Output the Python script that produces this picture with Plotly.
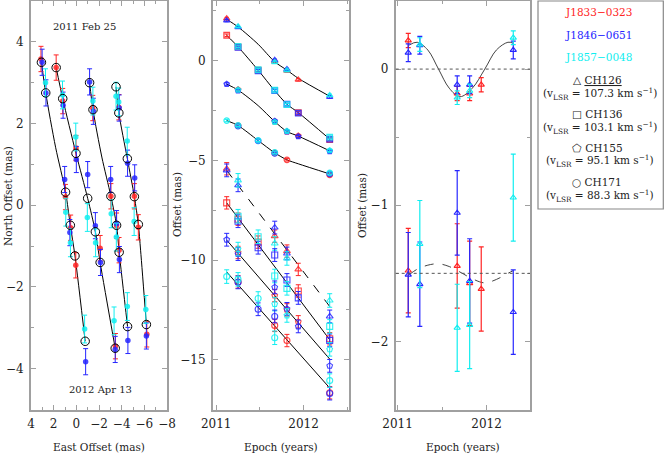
import plotly.graph_objects as go

W, H = 664, 453

# ---------------- data ----------------
epochs = [2011.12, 2011.25, 2011.48, 2011.67, 2011.81, 2011.94, 2012.30]
channel_names = ["CH126", "CH136", "CH155", "CH171"]
channel_vlsr = ["107.3", "103.1", "95.1", "88.3"]
source_names = ["J1833\u22120323", "J1846\u22120651", "J1857\u22120048"]

# East offsets (mas) as plotted in the middle panel (upper group)
ch126_east_red = [2.12, None, None, -0.04, -0.50, -0.95, None]
ch126_east_blue = [2.02, 1.68, None, 0.03, -0.43, None, -1.82]
ch126_east_cyan = [None, 1.72, None, -0.07, -0.48, None, -1.73]
ch136_east_red = [1.28, 0.70, -0.47, None, None, -2.60, -3.95]
ch136_east_blue = [None, 0.67, -0.50, -1.50, -2.18, -2.63, -3.93]
ch136_east_cyan = [None, 0.72, -0.45, -1.47, -2.20, None, -3.83]
ch155_east_red = [None, -1.45, None, -3.05, -3.55, -3.77, None]
ch155_east_blue = [-1.17, -1.50, None, -3.03, -3.55, -3.80, -4.55]
ch155_east_cyan = [None, -1.46, None, -3.08, -3.53, None, -4.50]
ch171_east_red = [None, -3.25, None, -4.62, -4.97, None, -5.72]
ch171_east_blue = [None, -3.28, -4.02, -4.65, None, None, -5.68]
ch171_east_cyan = [-3.00, -3.24, -3.99, -4.60, None, None, -5.63]

# North offsets (mas) as plotted in the middle panel (lower group)
ch126_north_red = [-5.42, None, None, -8.80, -9.55, -10.47, None]
ch126_north_blue = [-5.50, -6.25, None, -8.37, -9.67, None, -12.83]
ch126_north_cyan = [None, -6.00, None, -9.17, -9.92, None, -12.03]
ch136_north_red = [-7.13, -7.95, -9.10, None, None, -11.55, -13.95]
ch136_north_blue = [None, -8.05, -9.38, -9.75, -11.00, -11.90, -14.03]
ch136_north_cyan = [None, -7.80, -8.83, -10.80, -11.42, None, -13.33]
ch155_north_red = [None, -9.62, None, -11.78, -12.50, -13.10, None]
ch155_north_blue = [-8.98, -9.70, None, -11.37, -12.45, -13.33, -15.31]
ch155_north_cyan = [None, -9.45, None, -12.21, -12.78, None, -14.48]
ch171_north_red = [None, -11.10, None, -13.28, -14.04, None, -16.66]
ch171_north_blue = [None, -11.12, -12.47, -12.83, None, None, -16.70]
ch171_north_cyan = [-10.83, -10.97, -11.93, -13.90, None, None, -16.05]

# 1-sigma errors (mas) per reference source: red, blue, cyan
east_err = [0.06, 0.06, 0.06]
north_err = [0.31, 0.32, 0.34]

# fitted models (middle panel values at each epoch)
ch126_model_east = [2.08, 1.70, 0.83, -0.05, -0.47, -0.88, -1.78]
ch136_model_east = [1.28, 0.70, -0.47, -1.50, -2.18, -2.60, -3.93]
ch155_model_east = [-1.17, -1.47, -2.25, -3.05, -3.55, -3.78, -4.52]
ch171_model_east = [-3.00, -3.25, -4.00, -4.62, -4.97, -5.17, -5.68]
ch126_model_north = [-5.50, -6.25, -7.58, -8.68, -9.49, -10.24, -12.33]
ch136_model_north = [-7.13, -7.89, -9.23, -10.33, -11.15, -11.90, -14.00]
ch155_model_north = [-9.00, -9.66, -10.82, -11.78, -12.49, -13.15, -14.97]
ch171_model_north = [-10.60, -11.24, -12.36, -13.29, -13.97, -14.60, -16.42]

# display shifts of each channel's track in the sky-plane panel
sky_shift_east = [1.0, 0.5, 0.0, -0.5]
sky_shift_north = [9.0, 10.5, 12.0, 13.5]

# right panel: CH126 parallax residuals (RA upper, Dec lower shifted by -1.5)
dec_display_shift = -1.5
p3_ra_red = [0.21, None, None, -0.18, -0.18, -0.115, None]
p3_ra_blue = [0.12, 0.175, None, -0.115, -0.115, None, 0.14]
p3_ra_cyan = [None, 0.18, None, -0.21, -0.16, None, 0.23]
p3_ra_err = [0.052, 0.065, 0.05]
p3_dec_red = [0.02, None, None, 0.054, -0.073, -0.115, None]
p3_dec_blue = [-0.01, -0.08, None, 0.444, -0.056, None, -0.285]
p3_dec_cyan = [None, 0.215, None, -0.40, -0.38, None, 0.556]
p3_dec_err = [0.31, 0.31, 0.32]
p3_model_t = [2011.13, 2011.22, 2011.34, 2011.46, 2011.58, 2011.70, 2011.84,
              2011.98, 2012.11, 2012.24, 2012.30]
p3_model_ra = [0.176, 0.197, 0.14, 0.0, -0.14, -0.203, -0.14, 0.0, 0.14, 0.197, 0.19]
p3_model_dec = [-0.01, 0.03, 0.06, 0.07, 0.05, 0.01, -0.04, -0.07, -0.045, 0.0, 0.02]

# ---------------- assemble ----------------
east = [[ch126_east_red, ch126_east_blue, ch126_east_cyan],
        [ch136_east_red, ch136_east_blue, ch136_east_cyan],
        [ch155_east_red, ch155_east_blue, ch155_east_cyan],
        [ch171_east_red, ch171_east_blue, ch171_east_cyan]]
north = [[ch126_north_red, ch126_north_blue, ch126_north_cyan],
         [ch136_north_red, ch136_north_blue, ch136_north_cyan],
         [ch155_north_red, ch155_north_blue, ch155_north_cyan],
         [ch171_north_red, ch171_north_blue, ch171_north_cyan]]
model_east = [ch126_model_east, ch136_model_east, ch155_model_east, ch171_model_east]
model_north = [ch126_model_north, ch136_model_north, ch155_model_north, ch171_model_north]
p3_ra = [p3_ra_red, p3_ra_blue, p3_ra_cyan]
p3_dec = [p3_dec_red, p3_dec_blue, p3_dec_cyan]

src_colors = ["#ff2424", "#2626ff", "#10eef0"]
symbols = ["triangle-up-open", "square-open", "pentagon-open", "circle-open"]
FONT = "DejaVu Serif"
FRAME = "#a0a0a0"


def add(v, s):
    return [None if a is None else a + s for a in v]


fig = go.Figure()

# ---- panel 1: sky plane ----
for c in range(4):
    fig.add_trace(go.Scatter(
        x=add(model_east[c], sky_shift_east[c]), y=add(model_north[c], sky_shift_north[c]),
        mode="lines", line=dict(color="black", width=1, shape="spline", smoothing=0.8),
        xaxis="x", yaxis="y", hoverinfo="skip"))
    for s in range(3):
        fig.add_trace(go.Scatter(
            x=add(east[c][s], sky_shift_east[c]), y=add(north[c][s], sky_shift_north[c]),
            mode="markers", xaxis="x", yaxis="y",
            marker=dict(symbol="circle", size=5.5, color=src_colors[s], opacity=0.85),
            error_y=dict(type="constant", value=north_err[s], color=src_colors[s],
                         thickness=1, width=2.5)))
for c in range(4):
    idx = [i for i in range(len(epochs))
           if any(east[c][s][i] is not None for s in range(3))]
    fig.add_trace(go.Scatter(
        x=[model_east[c][i] + sky_shift_east[c] for i in idx],
        y=[model_north[c][i] + sky_shift_north[c] for i in idx],
        mode="markers", xaxis="x", yaxis="y",
        marker=dict(symbol="circle-open", size=8.5, color="black", line=dict(width=1))))

# ---- panel 2: offsets vs epoch ----
for c in range(4):
    fig.add_trace(go.Scatter(x=epochs, y=model_east[c], mode="lines", xaxis="x2", yaxis="y2",
                             line=dict(color="black", width=1, shape="spline", smoothing=0.8)))
    fig.add_trace(go.Scatter(x=epochs, y=model_north[c], mode="lines", xaxis="x2", yaxis="y2",
                             line=dict(color="black", width=1, dash="dash" if c == 0 else "solid")))
    for s in range(3):
        fig.add_trace(go.Scatter(
            x=epochs, y=east[c][s], mode="markers", xaxis="x2", yaxis="y2",
            marker=dict(symbol=symbols[c], size=5.5, color=src_colors[s], opacity=0.85,
                        line=dict(width=1.3, color=src_colors[s])),
            error_y=dict(type="constant", value=east_err[s], color=src_colors[s],
                         thickness=1, width=2)))
        fig.add_trace(go.Scatter(
            x=epochs, y=north[c][s], mode="markers", xaxis="x2", yaxis="y2",
            marker=dict(symbol=symbols[c], size=6, color=src_colors[s], opacity=0.85,
                        line=dict(width=1.1, color=src_colors[s])),
            error_y=dict(type="constant", value=north_err[s], color=src_colors[s],
                         thickness=1, width=2.5)))

# ---- panel 3: parallax residuals CH126 ----
fig.add_trace(go.Scatter(x=p3_model_t, y=p3_model_ra, mode="lines", xaxis="x3", yaxis="y3",
                         line=dict(color="#444", width=1, shape="spline", smoothing=1)))
fig.add_trace(go.Scatter(x=p3_model_t, y=add(p3_model_dec, dec_display_shift), mode="lines",
                         xaxis="x3", yaxis="y3",
                         line=dict(color="#444", width=1, dash="dash", shape="spline", smoothing=1)))
for s in range(3):
    fig.add_trace(go.Scatter(
        x=epochs, y=p3_ra[s], mode="markers", xaxis="x3", yaxis="y3",
        marker=dict(symbol="triangle-up-open", size=5.5, color=src_colors[s],
                    line=dict(width=1.1, color=src_colors[s])),
        error_y=dict(type="constant", value=p3_ra_err[s], color=src_colors[s], thickness=1.2, width=2.5)))
    fig.add_trace(go.Scatter(
        x=epochs, y=add(p3_dec[s], dec_display_shift), mode="markers", xaxis="x3", yaxis="y3",
        marker=dict(symbol="triangle-up-open", size=5.5, color=src_colors[s],
                    line=dict(width=1.1, color=src_colors[s])),
        error_y=dict(type="constant", value=p3_dec_err[s], color=src_colors[s], thickness=1.2, width=2.5)))


# ---------------- layout ----------------
def px(x):
    return x / W


def py(y):
    return 1 - y / H


def axis(domain, rng, dtick, minor, anchor, tick0=0, standoff=2):
    return dict(domain=domain, range=rng, dtick=dtick, tick0=tick0, anchor=anchor,
                automargin=False,
                ticks="inside", ticklen=5, tickwidth=1.2, tickcolor=FRAME,
                showline=True, linecolor=FRAME, linewidth=2, mirror="allticks",
                showgrid=False, zeroline=False, ticklabelstandoff=standoff,
                tickfont=dict(family=FONT, size=12, color="#222"),
                minor=dict(dtick=minor, tick0=tick0, ticks="inside", ticklen=3,
                           tickcolor=FRAME, tickwidth=1.2, showgrid=False))


ydom = [py(409.5), py(1)]
fig.update_layout(
    width=W, height=H, autosize=False, showlegend=False,
    margin=dict(l=0, r=0, t=0, b=0, pad=0),
    plot_bgcolor="white", paper_bgcolor="white",
    font=dict(family=FONT, size=12, color="#222"),
    xaxis=axis([px(31), px(167)], [4, -8], 2, 1, "y", standoff=2),
    yaxis=axis(ydom, [-5, 5], 2, 1, "x", standoff=3),
    xaxis2=axis([px(213), px(349)], [2010.963, 2012.521], 1, 0.5, "y2", tick0=2011, standoff=2),
    yaxis2=axis(ydom, [-17.5, 3], 5, 2.5, "x2", standoff=3),
    xaxis3=axis([px(395.7), px(530)], [2010.979, 2012.488], 1, 0.5, "y3", tick0=2011, standoff=2),
    yaxis3=axis(ydom, [-2.5, 0.5], 1, 0.5, "x3", standoff=3),
)

shapes = []
for yv in (0, dec_display_shift):
    shapes.append(dict(type="line", xref="x3 domain", yref="y3", x0=0, x1=1, y0=yv, y1=yv,
                       line=dict(color="#555", width=1, dash="dot")))
shapes.append(dict(type="rect", xref="paper", yref="paper", x0=px(538), x1=px(663.3),
                   y0=py(209), y1=py(1), line=dict(color="#888", width=1.2)))
fig.update_layout(shapes=shapes)

ann = []


def text(x, y, t, size=10.5, color="#222", angle=0):
    ann.append(dict(x=px(x), y=py(y), xref="paper", yref="paper", text=t, showarrow=False,
                    font=dict(family=FONT, size=size, color=color), textangle=angle,
                    xanchor="center", yanchor="middle"))


text(84, 27, "2011 Feb 25", 10)
text(100, 389, "2012 Apr 13", 10)
text(99, 447, "East Offset (mas)", 10.5)
text(8, 196, "North Offset (mas)", 10.5, angle=-90)
text(177, 205, "Offset (mas)", 10.5, angle=-90)
text(281, 447, "Epoch (years)", 10.5)
text(362, 206, "Offset (mas)", 10.5, angle=-90)
text(463, 447, "Epoch (years)", 10.5)

for s in range(3):
    text(598, [12, 34.5, 57][s], source_names[s], 10.5, color=src_colors[s])
glyphs = ["\u25b3", "\u25a1", "\u2b20", "\u25cb"]
ch_y = [80, 114, 148, 182.5]
for c in range(4):
    name = "<u>%s</u>" % channel_names[c] if c == 0 else channel_names[c]
    text(597, ch_y[c], glyphs[c] + " " + name, 10.5)
    text(600, ch_y[c] + 13.5,
         "(v<sub>LSR</sub> = %s km s<sup>\u22121</sup>)" % channel_vlsr[c], 10.5)

fig.update_layout(annotations=ann)
fig.write_html("out.html", config={"displayModeBar": False},
               post_script="document.body.style.margin='0px';document.body.style.overflow='hidden';")
